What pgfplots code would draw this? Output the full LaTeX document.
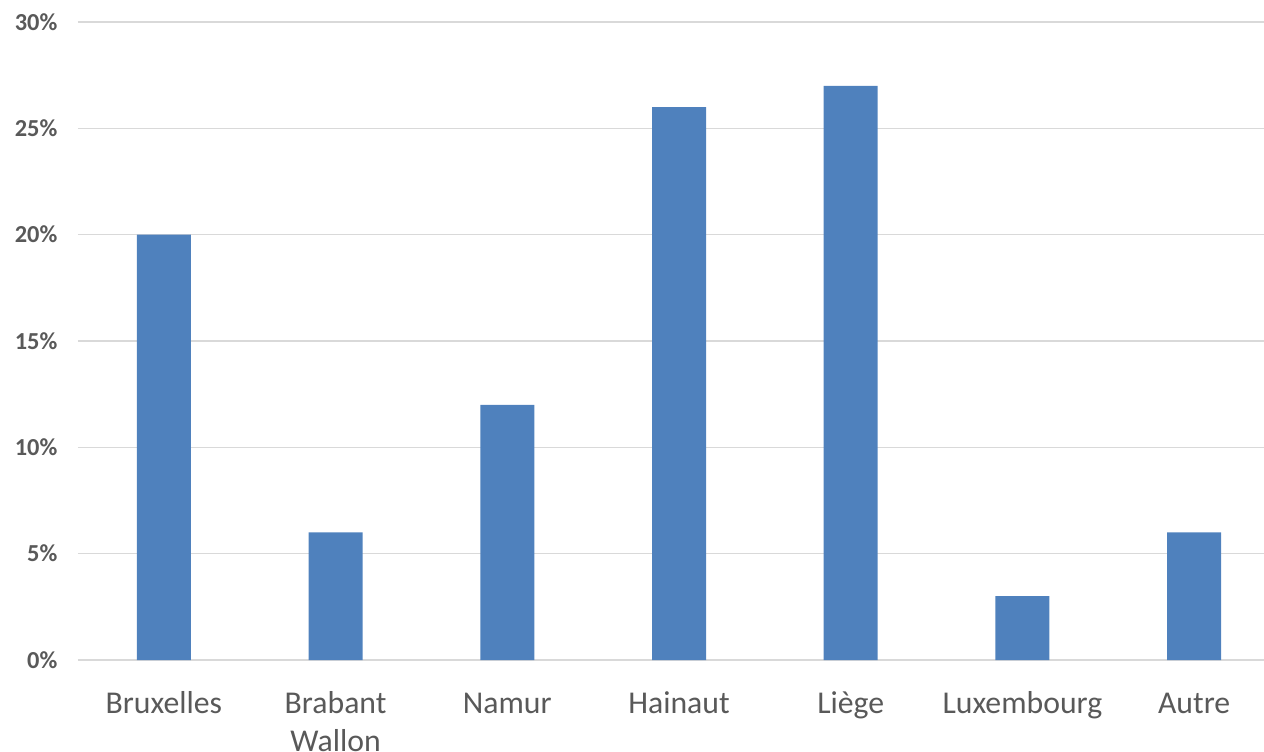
\documentclass[border=0pt]{standalone}
\usepackage{pgfplots}
\pgfplotsset{compat=1.18}
\usepackage{fontspec}
\setmainfont{Carlito}
\definecolor{barblue}{HTML}{4F81BD}
\definecolor{gridgray}{HTML}{D9D9D9}
\definecolor{txt}{HTML}{595959}
\begin{document}
\begin{tikzpicture}
\useasboundingbox (-58.5pt,-68.25pt) rectangle (889.5pt,495pt);
\begin{axis}[
  at={(0,0)}, anchor=south west,
  scale only axis,
  width=901.5pt, height=478.5pt,
  xmin=-0.5, xmax=6.5,
  ymin=0, ymax=30,
  ytick={0,5,...,30},
  yticklabel={\pgfmathprintnumber{\tick}\%},
  xtick={0,...,6},
  xticklabels={{\strut Bruxelles},{\strut Brabant\\Wallon},{\strut Namur},{\strut Hainaut},{\strut Liège},{\strut Luxembourg},{\strut Autre}},
  axis x line*=bottom,
  axis y line*=left,
  y axis line style={draw=none},
  x axis line style={gridgray, line width=1pt, -},
  ymajorgrids,
  grid style={gridgray, line width=1pt},
  major tick length=0pt,
  tick style={draw=none},
  /pgf/number format/assume math mode=true,
  yticklabel style={font=\fontsize{18.3}{21}\selectfont\bfseries, text=txt, xshift=-12pt},
  xticklabel style={font=\fontsize{23.8}{28.5}\selectfont, text=txt, align=center, anchor=north, yshift=-17pt},
  ybar, bar width=40.5pt,
  clip=false,
]
\addplot[fill=barblue, draw=none] coordinates {(0,20) (1,6) (2,12) (3,26) (4,27) (5,3) (6,6)};
\end{axis}
\end{tikzpicture}
\end{document}
